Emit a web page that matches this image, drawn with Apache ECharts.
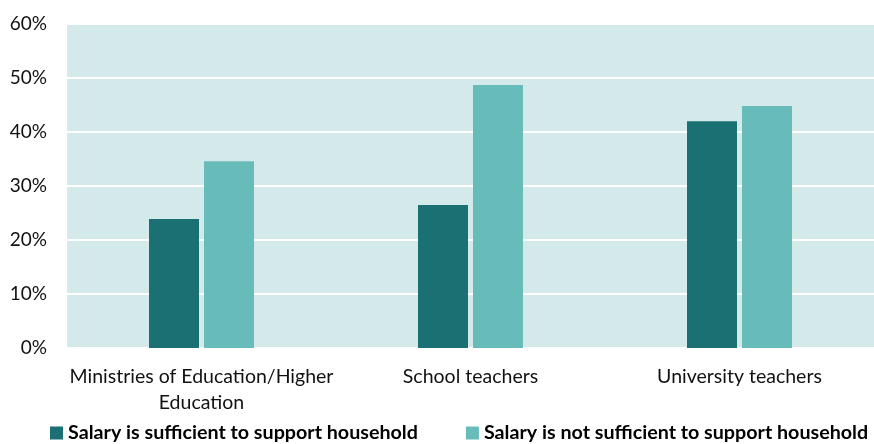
<!DOCTYPE html>
<html>
<head>
<meta charset="utf-8">
<script src="https://cdn.jsdelivr.net/npm/echarts@6/dist/echarts.min.js"></script>
<style>
  html, body { margin: 0; padding: 0; background: #fff; }
  #chart { width: 874px; height: 444px; }
</style>
</head>
<body>
<div id="chart"></div>
<script>
// chart data
const categories = ['Ministries of Education/Higher\nEducation', 'School teachers', 'University teachers'];
const sufficient = [23.9, 26.5, 42.0];
const notSufficient = [34.6, 48.7, 44.8];
const seriesNames = ['Salary is sufficient to support household', 'Salary is not sufficient to support household'];

const FONT = 'Lato, "Open Sans", sans-serif';

const chart = echarts.init(document.getElementById('chart'));

chart.setOption({
  animation: false,
  color: ['#1a7072', '#67bcba'],
  textStyle: { fontFamily: FONT },
  grid: {
    left: 67, right: 0, top: 24, bottom: 96,
    show: true, backgroundColor: '#d4e9ea', borderWidth: 0
  },
  legend: {
    top: 423,
    left: 50,
    width: 824,
    padding: 0,
    itemWidth: 13, itemHeight: 13, itemGap: 48,
    icon: 'rect',
    textStyle: { fontFamily: FONT, fontSize: 19.7, fontWeight: 'bold', color: '#000' },
    data: seriesNames
  },
  xAxis: {
    type: 'category',
    data: categories,
    axisLine: { show: false },
    axisTick: { show: false },
    axisLabel: { interval: 0, fontFamily: FONT, fontSize: 19.5, color: '#111', margin: 16, lineHeight: 26 }
  },
  yAxis: {
    type: 'value',
    min: 0, max: 60, interval: 10,
    axisLine: { show: false },
    axisTick: { show: false },
    splitLine: { lineStyle: { color: '#fff', width: 2 } },
    axisLabel: { fontFamily: FONT, fontSize: 19, color: '#111', margin: 20, formatter: '{value}%' }
  },
  series: [
    { name: seriesNames[0], type: 'bar', data: sufficient, barWidth: 50, barGap: '10%' },
    { name: seriesNames[1], type: 'bar', data: notSufficient, barWidth: 50 }
  ]
});
</script>
</body>
</html>
